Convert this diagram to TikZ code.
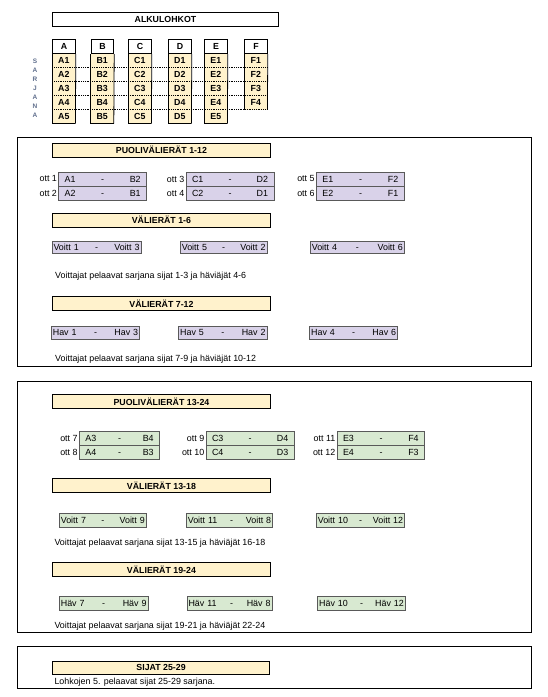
\documentclass[tikz,border=0pt]{standalone}
\usepackage{fontspec}
\setmainfont{Liberation Sans}
\usepackage{xcolor}
\definecolor{CellYellow}{RGB}{255,242,204}
\definecolor{MatchLilac}{RGB}{217,210,233}
\definecolor{MatchGreen}{RGB}{216,233,209}
\definecolor{SideBlue}{RGB}{95,110,140}
\usetikzlibrary{positioning}
\newcommand{\hdfont}{\fontsize{8.8}{10}\selectfont\bfseries}
\newcommand{\txfont}{\fontsize{8.9}{10}\selectfont}

\begin{document}
\begin{tikzpicture}[x=1pt, y=-1pt,
    frame/.style={rectangle, draw=black, line width=0.9pt, anchor=north west, inner sep=0pt},
    head/.style={rectangle, draw=black, line width=0.9pt, fill=CellYellow, anchor=north west,
                 minimum width=218pt, minimum height=14pt, inner sep=0pt, font=\hdfont},
    colhead/.style={rectangle, draw=black, line width=0.8pt, fill=white, anchor=north west,
                    minimum width=22.7pt, minimum height=14pt, inner sep=0pt, font=\hdfont},
    cell/.style={rectangle, fill=CellYellow, anchor=north west,
                 minimum width=22.7pt, minimum height=14pt, inner sep=0pt, font=\hdfont},
    pair/.style={rectangle, draw=black!65, line width=0.7pt, anchor=north west,
                 minimum height=13.8pt, inner xsep=6pt, inner ysep=0pt, align=left, font=\txfont},
    single/.style={pair, inner xsep=1.5pt},
    ottlab/.style={inner sep=0pt, font=\txfont},
    note/.style={anchor=west, inner sep=0pt, font=\txfont},
    side/.style={inner sep=0pt, text=SideBlue, font=\fontsize{6.5}{7}\selectfont\bfseries}
]
    \useasboundingbox (0,0) rectangle (548,697);

    % alkulohkot
    \node[head, fill=white, minimum width=226pt] (alku) at (52,12) {ALKULOHKOT};
    \foreach \c/\x/\n in {A/52.3/5, B/90.7/5, C/128.3/5, D/168.3/5, E/204.3/5, F/244.3/4} {
        \node[colhead] (h\c) at (\x,39.3) {\c};
        \foreach \r in {1,...,\n}
            \node[cell] (\c\r) at (\x,{53.3+14*(\r-1)}) {\c\r};
    }
    \foreach \r in {1,...,4}
        \draw[densely dotted, line width=0.8pt] (A\r.south west) -- (F\r.south east);
    \foreach \c/\n in {A/5, B/5, C/5, D/5, E/5, F/4} {
        \draw[line width=0.8pt] (h\c.south west) -- (\c\n.south west);
        \draw[line width=0.8pt] (h\c.south east) -- (\c\n.south east);
    }
    \foreach \c in {A,B,C,D,E}
        \draw[line width=0.8pt] (\c5.south west) -- (\c5.south east);
    \foreach \l [count=\i] in {S,A,R,J,A,N,A}
        \node[side] (s\i) at (35,{61.5+9*(\i-1)}) {\l};

    % sijat 1-12
    \node[frame, minimum width=514pt, minimum height=229pt] (sec1) at (17,137) {};
    \node[head] (puo1) at (52,142.7) {PUOLIVÄLIERÄT 1-12};
    \foreach \k/\m/\x/\p/\q/\r/\s in {1/2/58.3/A1/B2/A2/B1, 3/4/185.7/C1/D2/C2/D1, 5/6/316/E1/F2/E2/F1} {
        \node[pair, fill=MatchLilac, text width=76pt] (q\k) at (\x,171.7) {\p\hfill-\hfill\q};
        \node[pair, fill=MatchLilac, text width=76pt, below=0pt of q\k] (q\m) {\r\hfill-\hfill\s};
        \node[ottlab, left=1.2pt of q\k] (lq\k) {ott \k};
        \node[ottlab, left=1.2pt of q\m] (lq\m) {ott \m};
    }
    \node[head] (val1) at (52,212.7) {VÄLIERÄT 1-6};
    \foreach \a/\b/\x/\w [count=\i] in {Voitt 1/Voitt 3/51.7/89, Voitt 5/Voitt 2/180/86.7, Voitt 4/Voitt 6/310/94} {
        \pgfmathsetmacro{\tw}{\w-3}
        \node[single, fill=MatchLilac, text width=\tw pt, minimum height=12.4pt] (v\i) at (\x,241) {\a\hfill-\hfill\b};
    }
    \node[note] (n1) at (55,276) {Voittajat pelaavat sarjana sijat 1-3 ja häviäjät 4-6};
    \node[head] (val2) at (52,296) {VÄLIERÄT 7-12};
    \foreach \a/\b/\x/\w [count=\i] in {Hav 1/Hav 3/51/88.3, Hav 5/Hav 2/178.3/88.4, Hav 4/Hav 6/309.3/88} {
        \pgfmathsetmacro{\tw}{\w-3}
        \node[single, fill=MatchLilac, text width=\tw pt, minimum height=13.6pt] (hv\i) at (\x,325.7) {\a\hfill-\hfill\b};
    }
    \node[note] (n2) at (55,359.3) {Voittajat pelaavat sarjana sijat 7-9 ja häviäjät 10-12};

    % sijat 13-24
    \node[frame, minimum width=514pt, minimum height=251.5pt] (sec2) at (17,380.5) {};
    \node[head] (puo2) at (52,394.3) {PUOLIVÄLIERÄT 13-24};
    \foreach \k/\m/\x/\w/\p/\q/\r/\s in {7/8/79/80.3/A3/B4/A4/B3, 9/10/205.7/88.3/C3/D4/C4/D3, 11/12/336.7/87.6/E3/F4/E4/F3} {
        \pgfmathsetmacro{\tw}{\w-12}
        \node[pair, fill=MatchGreen, text width=\tw pt, minimum height=14pt] (q\k) at (\x,430.7) {\p\hfill-\hfill\q};
        \node[pair, fill=MatchGreen, text width=\tw pt, minimum height=14pt, below=0pt of q\k] (q\m) {\r\hfill-\hfill\s};
        \node[ottlab, left=1.2pt of q\k] (lq\k) {ott \k};
        \node[ottlab, left=1.2pt of q\m] (lq\m) {ott \m};
    }
    \node[head] (val3) at (52,478.3) {VÄLIERÄT 13-18};
    \foreach \a/\b/\x/\w [count=\i] in {Voitt 7/Voitt 9/59/87, Voitt 11/Voitt 8/186/86.3, Voitt 10/Voitt 12/316/88.3} {
        \pgfmathsetmacro{\tw}{\w-3}
        \node[single, fill=MatchGreen, text width=\tw pt, minimum height=13.4pt] (w\i) at (\x,513.3) {\a\hfill-\hfill\b};
    }
    \node[note] (n3) at (54.3,543.3) {Voittajat pelaavat sarjana sijat 13-15 ja häviäjät 16-18};
    \node[head] (val4) at (52,562.3) {VÄLIERÄT 19-24};
    \foreach \a/\b/\x/\w [count=\i] in {Häv 7/Häv 9/59/88.7, Häv 11/Häv 8/186.7/85, Häv 10/Häv 12/317.3/87.7} {
        \pgfmathsetmacro{\tw}{\w-3}
        \node[single, fill=MatchGreen, text width=\tw pt, minimum height=14.3pt] (hw\i) at (\x,595.7) {\a\hfill-\hfill\b};
    }
    \node[note] (n4) at (54.3,626) {Voittajat pelaavat sarjana sijat 19-21 ja häviäjät 22-24};

    % sijat 25-29
    \node[frame, minimum width=514pt, minimum height=42.8pt] (sec3) at (17,645.5) {};
    \node[head, minimum width=217.3pt, minimum height=13.6pt] (sija) at (52,660.7) {SIJAT 25-29};
    \node[note] (n5) at (54.3,682.3) {Lohkojen 5. pelaavat sijat 25-29 sarjana.};
\end{tikzpicture}
\end{document}
